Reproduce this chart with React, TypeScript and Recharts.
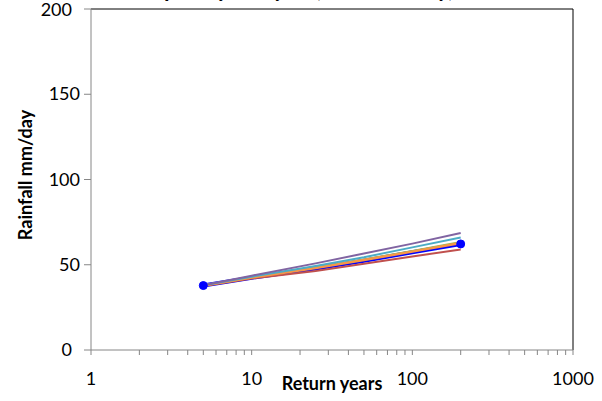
import React from "react";
import {
  LineChart,
  Line,
  XAxis,
  YAxis,
  ReferenceLine,
  Customized,
} from "recharts";

// return periods (years)
const returnYears = [5, 10, 25, 50, 100, 200];

// rainfall (mm/day) per series
const purpleSeries = [38.0, 43.6, 50.8, 56.6, 62.4, 68.6];
const cyanSeries = [38.0, 43.0, 49.3, 54.4, 60.2, 66.0];
const greenSeries = [37.9, 42.7, 48.4, 53.1, 58.1, 63.3];
const orangeSeries = [37.8, 42.5, 48.1, 52.8, 57.7, 62.8];
const blueSeries = [37.8, 42.4, 47.8, 52.4, 57.3, 62.2];
const redSeries = [37.5, 41.9, 46.4, 50.6, 54.9, 58.9];

const xTicks = [
  1, 2, 3, 4, 5, 6, 7, 8, 9, 10, 20, 30, 40, 50, 60, 70, 80, 90, 100, 200,
  300, 400, 500, 600, 700, 800, 900, 1000,
];
const xLabels = [1, 10, 100, 1000];
const yTicks = [0, 50, 100, 150, 200];

const data = returnYears.map((t, i) => ({
  t,
  purple: purpleSeries[i],
  cyan: cyanSeries[i],
  green: greenSeries[i],
  orange: orangeSeries[i],
  blue: blueSeries[i],
  red: redSeries[i],
}));

const FONT = "Lato, 'Open Sans', sans-serif";

const XTick = (props: any) => {
  const { x, y, payload } = props;
  if (!xLabels.includes(payload.value)) return <g />;
  return (
    <text x={x} y={y + 28} textAnchor="middle" fontSize={18} fill="#000" fontFamily={FONT}>
      {payload.value}
    </text>
  );
};

const YTick = (props: any) => {
  const { y, payload } = props;
  const edge = payload.value === 0 || payload.value === 200;
  return (
    <text
      x={edge ? 72 : 80}
      y={payload.value === 200 ? y + 1 : y}
      dy={6}
      textAnchor="end"
      fontSize={18}
      fill="#000"
      fontFamily={FONT}
    >
      {payload.value}
    </text>
  );
};

const BlueDot = (props: any) => {
  const { cx, cy, index } = props;
  if (index !== 0 && index !== returnYears.length - 1) return <g key={`d${index}`} />;
  return <circle key={`d${index}`} cx={cx} cy={cy} r={4} fill="#0000FF" stroke="#0000FF" />;
};

const Titles = () => (
  <g fontFamily={FONT} fontWeight="bold" fill="#000">
    <text x={290} y={-3} textAnchor="middle" fontSize={22}>
      Frequency analysis (Gumbel daily)
    </text>
    <text x={332} y={390} textAnchor="middle" fontSize={18}>
      Return years
    </text>
    <text
      x={32}
      y={175}
      textAnchor="middle"
      fontSize={18}
      transform="rotate(-90 32 175)"
    >
      Rainfall mm/day
    </text>
  </g>
);

export default function App() {
  return (
    <div style={{ position: "absolute", left: 0, top: 0, width: 602, height: 401, background: "#fff" }}>
      <LineChart
        width={602}
        height={401}
        data={data}
        margin={{ top: 9, right: 29, bottom: 0, left: 0 }}
      >
        <XAxis
          dataKey="t"
          type="number"
          scale="log"
          domain={[1, 1000]}
          ticks={xTicks}
          interval={0}
          height={51}
          allowDataOverflow
          stroke="#868686"
          tickSize={5}
          tick={<XTick />}
        />
        <YAxis
          type="number"
          domain={[0, 200]}
          ticks={yTicks}
          width={91}
          stroke="#868686"
          tickSize={7}
          tick={<YTick />}
        />
        <ReferenceLine y={200} stroke="#000" strokeWidth={1} />
        <ReferenceLine x={1000} stroke="#000" strokeWidth={1} />
        <Line
          dataKey="blue"
          stroke="#0000FF"
          strokeWidth={4}
          dot={<BlueDot />}
          isAnimationActive={false}
        />
        <Line dataKey="red" stroke="#C0504D" strokeWidth={2} dot={false} isAnimationActive={false} />
        <Line dataKey="green" stroke="#9BBB59" strokeWidth={2} dot={false} isAnimationActive={false} />
        <Line dataKey="orange" stroke="#F79646" strokeWidth={2.5} dot={false} isAnimationActive={false} />
        <Line dataKey="cyan" stroke="#4BACC6" strokeWidth={2} dot={false} isAnimationActive={false} />
        <Line dataKey="purple" stroke="#8064A2" strokeWidth={2} dot={false} isAnimationActive={false} />
        <Customized component={Titles} />
      </LineChart>
    </div>
  );
}
